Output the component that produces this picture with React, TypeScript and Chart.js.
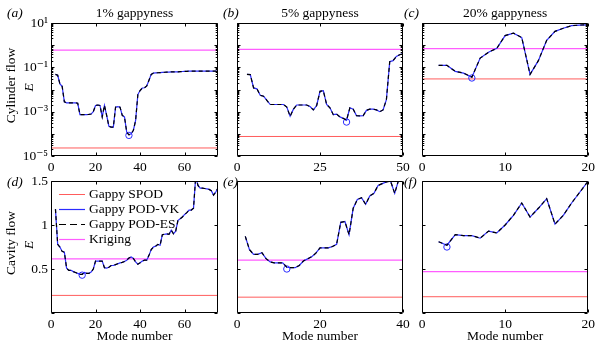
import React, { useEffect, useRef } from 'react';
import { Chart, registerables } from 'chart.js';

Chart.register(...registerables);

const W = 598;
const H = 345;
const SERIF = '"Liberation Serif", "DejaVu Serif", serif';
const FS = 13.5;

// ---------- data ----------
// Cylinder flow, reconstruction error E (Gappy POD-VK / POD-ES) vs mode number
const cyl1Start = 2;
const cyl1VK = [
  0.048, 0.044, 0.018, 0.014, 0.0028, 0.0025, 0.0025, 0.0025, 0.0025, 0.0025, 0.0024,
  0.00074, 0.00074, 0.00074, 0.00074, 0.00075, 0.00078, 0.001, 0.0019, 0.002, 0.0019,
  0.00058, 0.0019, 0.00068, 0.00022, 0.0002, 0.0002, 0.0016, 0.0017, 0.0016, 0.00068,
  0.00058, 0.00012, 0.00009, 0.0001, 0.000145, 0.0004, 0.0059, 0.009, 0.0117, 0.012,
  0.0145, 0.026, 0.048, 0.055, 0.056, 0.057, 0.058, 0.059, 0.06, 0.061, 0.061, 0.062,
  0.062, 0.063, 0.063, 0.064, 0.065, 0.066, 0.066, 0.067, 0.067, 0.067, 0.068, 0.068,
  0.068, 0.068, 0.068, 0.067, 0.067, 0.067, 0.067, 0.067, 0.066,
];
const cyl5Start = 3;
const cyl5VK = [
  0.048, 0.047, 0.0118, 0.0107, 0.0055, 0.005, 0.0032, 0.0021, 0.0021, 0.0021, 0.0021,
  0.0021, 0.0016, 0.00062, 0.0013, 0.002, 0.002, 0.002, 0.002, 0.0017, 0.0012, 0.0019,
  0.0083, 0.0088, 0.0021, 0.0015, 0.00073, 0.00078, 0.00058, 0.0005, 0.00041, 0.0015,
  0.0013, 0.00066, 0.00064, 0.00066, 0.00115, 0.0013, 0.0013, 0.0012, 0.001, 0.0012,
  0.0035, 0.18, 0.2, 0.31, 0.37, 0.42,
];
const cyl20Start = 2;
const cyl20VK = [
  0.123, 0.123, 0.066, 0.055, 0.036, 0.26, 0.48, 0.72, 2.7, 3.5, 2.2, 0.048, 0.2, 1.66,
  4.2, 5.8, 7.6, 8.1, 8.3,
];
// Cavity flow
const cav1Start = 2;
const cav1VK = [
  1.18, 0.78, 0.75, 0.7, 0.69, 0.51, 0.485, 0.485, 0.47, 0.46, 0.45, 0.44, 0.44, 0.46,
  0.45, 0.45, 0.465, 0.5, 0.59, 0.59, 0.59, 0.59, 0.515, 0.51, 0.52, 0.54, 0.54, 0.55,
  0.56, 0.57, 0.575, 0.585, 0.6, 0.625, 0.636, 0.62, 0.58, 0.555, 0.57, 0.59, 0.6, 0.6,
  0.655, 0.72, 0.75, 0.76, 0.78, 0.77, 0.89, 0.895, 0.9, 0.895, 0.94, 0.9, 0.93, 1.05,
  1.07, 1.09, 1.12, 1.14, 1.17, 1.17, 1.19, 1.55, 1.45, 1.42, 1.42, 1.415, 1.41, 1.405,
  1.39, 1.34, 1.375, 1.42,
];
const cav5Start = 2;
const cav5VK = [
  0.87, 0.72, 0.667, 0.667, 0.685, 0.617, 0.58, 0.57, 0.57, 0.57, 0.52, 0.515, 0.515,
  0.54, 0.59, 0.615, 0.64, 0.68, 0.74, 0.74, 0.74, 0.755, 0.78, 1.03, 1.04, 0.89, 1.19,
  1.29, 1.31, 1.235, 1.33, 1.36, 1.45, 1.47, 1.49, 1.5, 1.36, 1.52,
];
const cav20Start = 2;
const cav20VK = [
  0.81, 0.77, 0.89, 0.88, 0.88, 0.85, 0.93, 0.91, 1.0, 1.11, 1.25, 1.09, 1.19, 1.3,
  1.01, 1.11, 1.25, 1.375, 1.5,
];

// reference levels (1%, 5%, 20% gappyness)
const cylSPOD = [2.3e-5, 7.6e-5, 0.03];
const cylKriging = [0.6, 0.65, 0.7];
const cavSPOD = [0.2, 0.18, 0.185];
const cavKriging = [0.614, 0.6, 0.47];

// optimal (minimum) points marked with a circle
const cylMinMode = [35, 33, 6];
const cylMinValue = [8.5e-5, 3.4e-4, 0.033];
const cavMinMode = [14, 12, 3];
const cavMinValue = [0.43, 0.5, 0.75];

// axes
const gappyTitles = ['1% gappyness', '5% gappyness', '20% gappyness'];
const panelLabels = ['(a)', '(b)', '(c)', '(d)', '(e)', '(f)'];
const xMaxes = [75, 50, 20];
const xTickSets = [
  [0, 20, 40, 60],
  [0, 25, 50],
  [0, 10, 20],
];
const xMaxesBottom = [75, 40, 20];
const xTickSetsBottom = [
  [0, 20, 40, 60],
  [0, 20, 40],
  [0, 10, 20],
];
const cylYTicks = [1e-5, 1e-4, 1e-3, 1e-2, 1e-1, 1, 10];
const cylYTickLabels = ['10⁻⁵', '', '10⁻³', '', '10⁻¹', '', '10¹'];
const cavYTicks = [0, 0.5, 1, 1.5];
const cavYTickLabels = ['', '0.5', '1', '1.5'];
const legendLabels = ['Gappy SPOD', 'Gappy POD-VK', 'Gappy POD-ES', 'Kriging'];

// ---------- layout ----------
const colLeft = [51, 237, 422];
const colRight = [218, 403, 589];
const rowTop = [23, 181];
const rowBottom = [156, 313];
const Y_AXIS_W = 40;

const C_SPOD = '#ff5c5c';
const C_VK = '#2b2bff';
const C_ES = '#000000';
const C_KRIG = '#ff5cff';

type Panel = {
  row: number;
  col: number;
  values: number[];
  start: number;
  minMode: number;
  minValue: number;
  spod: number;
  kriging: number;
  xMax: number;
  xTicks: number[];
  log: boolean;
};

const panels: Panel[] = [
  { row: 0, col: 0, values: cyl1VK, start: cyl1Start, minMode: cylMinMode[0], minValue: cylMinValue[0], spod: cylSPOD[0], kriging: cylKriging[0], xMax: xMaxes[0], xTicks: xTickSets[0], log: true },
  { row: 0, col: 1, values: cyl5VK, start: cyl5Start, minMode: cylMinMode[1], minValue: cylMinValue[1], spod: cylSPOD[1], kriging: cylKriging[1], xMax: xMaxes[1], xTicks: xTickSets[1], log: true },
  { row: 0, col: 2, values: cyl20VK, start: cyl20Start, minMode: cylMinMode[2], minValue: cylMinValue[2], spod: cylSPOD[2], kriging: cylKriging[2], xMax: xMaxes[2], xTicks: xTickSets[2], log: true },
  { row: 1, col: 0, values: cav1VK, start: cav1Start, minMode: cavMinMode[0], minValue: cavMinValue[0], spod: cavSPOD[0], kriging: cavKriging[0], xMax: xMaxesBottom[0], xTicks: xTickSetsBottom[0], log: false },
  { row: 1, col: 1, values: cav5VK, start: cav5Start, minMode: cavMinMode[1], minValue: cavMinValue[1], spod: cavSPOD[1], kriging: cavKriging[1], xMax: xMaxesBottom[1], xTicks: xTickSetsBottom[1], log: false },
  { row: 1, col: 2, values: cav20VK, start: cav20Start, minMode: cavMinMode[2], minValue: cavMinValue[2], spod: cavSPOD[2], kriging: cavKriging[2], xMax: xMaxesBottom[2], xTicks: xTickSetsBottom[2], log: false },
];

const decorPlugin = {
  id: 'decor',
  afterDatasetsDraw(chart: any, _args: any, opts: any) {
    const p: Panel = opts.panel;
    const { ctx, chartArea: a, scales } = chart;
    const xs = scales.x;
    const ys = scales.y;
    ctx.save();
    ctx.strokeStyle = '#000';
    ctx.lineWidth = 1;
    const L = Math.round(a.left) + 0.5;
    const R = Math.round(a.right) - 0.5;
    const T = Math.round(a.top) + 0.5;
    const B = Math.round(a.bottom) - 0.5;
    ctx.beginPath();
    ctx.rect(L, T, R - L, B - T);
    ctx.stroke();

    // inward tick marks
    ctx.beginPath();
    p.xTicks.forEach((v) => {
      const px = Math.round(xs.getPixelForValue(v)) + 0.5;
      ctx.moveTo(px, B);
      ctx.lineTo(px, B - 3);
      ctx.moveTo(px, T);
      ctx.lineTo(px, T + 3);
    });
    const yMajor = p.log ? cylYTicks : cavYTicks;
    yMajor.forEach((v) => {
      const py = Math.round(ys.getPixelForValue(v)) + 0.5;
      ctx.moveTo(L, py);
      ctx.lineTo(L + 3, py);
      ctx.moveTo(R, py);
      ctx.lineTo(R - 3, py);
    });
    if (p.log) {
      for (let d = 0; d < cylYTicks.length - 1; d++) {
        for (let m = 2; m <= 9; m++) {
          const py = Math.round(ys.getPixelForValue(cylYTicks[d] * m)) + 0.5;
          ctx.moveTo(L, py);
          ctx.lineTo(L + 1.8, py);
          ctx.moveTo(R, py);
          ctx.lineTo(R - 1.8, py);
        }
      }
    }
    ctx.stroke();

    // texts
    ctx.fillStyle = '#000';
    ctx.textBaseline = 'middle';
    const idx = p.row * 3 + p.col;
    ctx.font = `italic ${FS}px ${SERIF}`;
    ctx.textAlign = 'left';
    const labX = [7, 223, 404][p.col];
    const labY = p.row === 0 ? 13 : 182;
    ctx.fillText(panelLabels[idx], labX, labY);

    if (p.row === 0) {
      ctx.font = `${FS}px ${SERIF}`;
      ctx.textAlign = 'center';
      ctx.fillText(gappyTitles[p.col], (a.left + a.right) / 2, 13);
    }

    if (p.col === 0) {
      const cy = (a.top + a.bottom) / 2 - 4;
      ctx.save();
      ctx.translate(11, cy);
      ctx.rotate(-Math.PI / 2);
      ctx.font = `${FS}px ${SERIF}`;
      ctx.textAlign = 'center';
      ctx.fillText(p.row === 0 ? 'Cylinder flow' : 'Cavity flow', 0, 0);
      ctx.restore();
      ctx.save();
      ctx.translate(29, cy + 2);
      ctx.rotate(-Math.PI / 2);
      ctx.font = `italic ${FS}px ${SERIF}`;
      ctx.textAlign = 'center';
      ctx.fillText('E', 0, 0);
      ctx.restore();
    }

    if (p.row === 1 && p.col === 0) {
      const styles = [
        { c: C_SPOD, dash: [] as number[], w: 1 },
        { c: C_VK, dash: [] as number[], w: 1.2 },
        { c: C_ES, dash: [7, 4], w: 1.2 },
        { c: C_KRIG, dash: [] as number[], w: 1.2 },
      ];
      const rowsY = [194, 209, 224, 239];
      legendLabels.forEach((lab, i) => {
        ctx.beginPath();
        ctx.setLineDash(styles[i].dash);
        ctx.strokeStyle = styles[i].c;
        ctx.lineWidth = styles[i].w;
        ctx.moveTo(59, rowsY[i] + 0.5);
        ctx.lineTo(85, rowsY[i] + 0.5);
        ctx.stroke();
        ctx.setLineDash([]);
        ctx.font = `${FS}px ${SERIF}`;
        ctx.textAlign = 'left';
        ctx.fillStyle = '#000';
        ctx.fillText(lab, 89, rowsY[i]);
      });
    }
    ctx.restore();
  },
};

function buildChart(canvas: HTMLCanvasElement, p: Panel) {
  const pts = p.values.map((v, i) => ({ x: p.start + i, y: v }));
  const left = colLeft[p.col];
  const right = colRight[p.col];
  const top = rowTop[p.row];
  const bottom = rowBottom[p.row];
  const xAxisH = p.row === 0 ? 20 : 32;
  const showY = p.col === 0;
  const font = { family: SERIF, size: FS };
  return new Chart(canvas, {
    type: 'line',
    data: {
      datasets: [
        { label: 'Gappy POD-ES', data: pts, borderColor: C_ES, borderWidth: 1.2, borderDash: [4, 3], pointRadius: 0, order: 0, tension: 0 },
        { label: 'min', data: [{ x: p.minMode, y: p.minValue }], showLine: false, pointRadius: 3.2, pointBorderColor: C_VK, pointBackgroundColor: 'rgba(0,0,0,0)', pointBorderWidth: 1, order: 1 },
        { label: 'Gappy POD-VK', data: pts, borderColor: C_VK, borderWidth: 1.2, pointRadius: 0, order: 2, tension: 0 },
        { label: 'Gappy SPOD', data: [{ x: 0, y: p.spod }, { x: p.xMax, y: p.spod }], borderColor: C_SPOD, borderWidth: 1, pointRadius: 0, order: 3 },
        { label: 'Kriging', data: [{ x: 0, y: p.kriging }, { x: p.xMax, y: p.kriging }], borderColor: C_KRIG, borderWidth: 1.2, pointRadius: 0, order: 4 },
      ] as any,
    },
    options: {
      responsive: false,
      animation: false,
      devicePixelRatio: 1,
      events: [],
      layout: {
        padding: {
          left: left - Y_AXIS_W,
          top: top,
          right: W - right,
          bottom: H - bottom - xAxisH,
        },
      },
      plugins: {
        legend: { display: false },
        tooltip: { enabled: false },
        decor: { panel: p },
      } as any,
      scales: {
        x: {
          type: 'linear',
          min: 0,
          max: p.xMax,
          afterBuildTicks: (s: any) => {
            s.ticks = p.xTicks.map((v) => ({ value: v }));
          },
          afterFit: (s: any) => {
            s.height = xAxisH;
          },
          grid: { display: false, drawTicks: false },
          border: { display: false },
          ticks: { font, color: '#000', padding: 3, maxRotation: 0, autoSkip: false, callback: (v: any) => String(v) },
          title: { display: p.row === 1, text: 'Mode number', font, color: '#000', padding: { top: 0, bottom: 0 } },
        },
        y: {
          type: p.log ? 'logarithmic' : 'linear',
          min: p.log ? cylYTicks[0] : cavYTicks[0],
          max: p.log ? cylYTicks[cylYTicks.length - 1] : cavYTicks[cavYTicks.length - 1],
          afterBuildTicks: (s: any) => {
            s.ticks = (p.log ? cylYTicks : cavYTicks).map((v) => ({ value: v }));
          },
          afterFit: (s: any) => {
            s.width = Y_AXIS_W;
          },
          grid: { display: false, drawTicks: false },
          border: { display: false },
          ticks: {
            display: showY,
            font,
            color: '#000',
            padding: 3,
            autoSkip: false,
            callback: (_v: any, i: number) => (p.log ? cylYTickLabels[i] : cavYTickLabels[i]),
          },
        },
      } as any,
    },
    plugins: [decorPlugin],
  } as any);
}

function PanelCanvas({ p }: { p: Panel }) {
  const ref = useRef<HTMLCanvasElement>(null);
  useEffect(() => {
    if (!ref.current) return;
    const chart = buildChart(ref.current, p);
    return () => chart.destroy();
  }, [p]);
  return (
    <canvas
      ref={ref}
      width={W}
      height={H}
      style={{ position: 'absolute', left: 0, top: 0, width: W, height: H }}
    />
  );
}

export default function App() {
  return (
    <div style={{ position: 'absolute', left: 0, top: 0, width: W, height: H, background: '#fff' }}>
      {panels.map((p, i) => (
        <PanelCanvas key={i} p={p} />
      ))}
    </div>
  );
}
